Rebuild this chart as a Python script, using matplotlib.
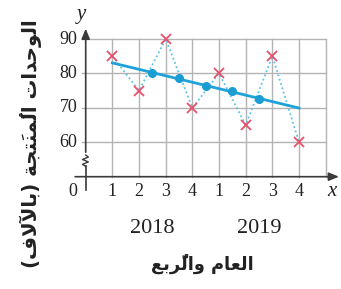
import matplotlib
matplotlib.use("Agg")
import matplotlib.pyplot as plt
import numpy as np

# Data
quarters = [1, 2, 3, 4, 5, 6, 7, 8]
quarter_labels = ["1", "2", "3", "4", "1", "2", "3", "4"]
units = [85, 75, 90, 70, 80, 65, 85, 60]
ma_x = [2.5, 3.5, 4.5, 5.5, 6.5]
ma_y = [80, 78.75, 76.25, 75, 72.5]
y_ticks = [60, 70, 80, 90]
years = ["2018", "2019"]
year_pos = [2.5, 6.5]
xlabel = "العام والرُّبع"
ylabel = "الوحدات المُنتَجة (بالآلاف)"

# --- minimal Arabic shaping (matplotlib has no complex text layout) ---
AR_FORMS = {
    "\u0627": ("\uFE8D", "\uFE8E", None, None),
    "\u0622": ("\uFE81", "\uFE82", None, None),
    "\u0628": ("\uFE8F", "\uFE90", "\uFE91", "\uFE92"),
    "\u0629": ("\uFE93", "\uFE94", None, None),
    "\u062A": ("\uFE95", "\uFE96", "\uFE97", "\uFE98"),
    "\u062C": ("\uFE9D", "\uFE9E", "\uFE9F", "\uFEA0"),
    "\u062D": ("\uFEA1", "\uFEA2", "\uFEA3", "\uFEA4"),
    "\u062F": ("\uFEA9", "\uFEAA", None, None),
    "\u0631": ("\uFEAD", "\uFEAE", None, None),
    "\u0639": ("\uFEC9", "\uFECA", "\uFECB", "\uFECC"),
    "\u0641": ("\uFED1", "\uFED2", "\uFED3", "\uFED4"),
    "\u0644": ("\uFEDD", "\uFEDE", "\uFEDF", "\uFEE0"),
    "\u0645": ("\uFEE1", "\uFEE2", "\uFEE3", "\uFEE4"),
    "\u0646": ("\uFEE5", "\uFEE6", "\uFEE7", "\uFEE8"),
    "\u0648": ("\uFEED", "\uFEEE", None, None),
}
LAM_ALEF = {"\u0627": ("\uFEFB", "\uFEFC"), "\u0622": ("\uFEF5", "\uFEF6")}
MIRROR = {"(": ")", ")": "("}


def shape_rtl(s):
    clusters = []
    for c in s:
        if "\u064B" <= c <= "\u0652" and clusters:
            clusters[-1][1].append(c)
        else:
            clusters.append([c, []])
    merged = []
    i = 0
    while i < len(clusters):
        b, m = clusters[i]
        if b == "\u0644" and i + 1 < len(clusters) and clusters[i + 1][0] in LAM_ALEF:
            merged.append(["LA" + clusters[i + 1][0], m + clusters[i + 1][1]])
            i += 2
        else:
            merged.append([b, m])
            i += 1

    def is_letter(b):
        return b in AR_FORMS or b.startswith("LA")

    def dual(b):
        return b in AR_FORMS and AR_FORMS[b][2] is not None

    out = []
    for k, (b, m) in enumerate(merged):
        prev = merged[k - 1][0] if k > 0 else None
        nxt = merged[k + 1][0] if k + 1 < len(merged) else None
        jp = prev is not None and dual(prev)
        if b.startswith("LA"):
            g = LAM_ALEF[b[2]][1 if jp else 0]
        elif b in AR_FORMS:
            jn = dual(b) and nxt is not None and is_letter(nxt)
            f = AR_FORMS[b]
            if jp and jn:
                g = f[3]
            elif jp:
                g = f[1]
            elif jn:
                g = f[2]
            else:
                g = f[0]
        else:
            g = MIRROR.get(b, b)
        out.append(g + "".join(m))
    return "".join(reversed(out))


W, H = 341, 289
fig = plt.figure(figsize=(W / 100, H / 100), dpi=100)
x0px, x9px = 85.7, 325.7
y50px, y90px = 176.7, 39.0
ax = fig.add_axes([x0px / W, 1 - y50px / H, (x9px - x0px) / W, (y50px - y90px) / H])
ax.set_xlim(0, 9)
ax.set_ylim(50, 90)
ax.axis("off")

serif = ["Liberation Serif", "DejaVu Serif"]
grid_c = "#b3b3b3"
axis_c = "#3a3a3a"

# grid
for gx in range(1, 10):
    ax.plot([gx, gx], [50, 90], color=grid_c, lw=1.0, clip_on=False, zorder=1)
for gy in y_ticks:
    ax.plot([-0.15, 9], [gy, gy], color=grid_c, lw=1.0, clip_on=False, zorder=1)

# axes
ax.annotate("", xy=(9.6, 50), xytext=(-0.5, 50),
            arrowprops=dict(arrowstyle="-|>,head_length=0.6,head_width=0.25", color=axis_c, lw=1.2),
            annotation_clip=False, zorder=2)
ax.plot([0, 0], [46.2, 53.0], color=axis_c, lw=1.2, clip_on=False, zorder=2)
zz_x = [0, -0.12, 0.1, -0.12, 0.1, 0]
zz_y = [53.0, 53.6, 54.3, 55.0, 55.7, 56.3]
ax.plot(zz_x, zz_y, color=axis_c, lw=1.0, clip_on=False, zorder=2)
ax.annotate("", xy=(0, 93.8), xytext=(0, 56.3),
            arrowprops=dict(arrowstyle="-|>,head_length=0.6,head_width=0.25", color=axis_c, lw=1.2),
            annotation_clip=False, zorder=2)

# tick labels
for t in y_ticks:
    ax.text(-0.32, t, str(t), ha="right", va="center", fontsize=13, family=serif, color="#222")
for q, lab in zip(quarters, quarter_labels):
    ax.text(q, 45.6, lab, ha="center", va="center", fontsize=13, family=serif, color="#222")
ax.text(-0.48, 45.6, "0", ha="center", va="center", fontsize=13, family=serif, color="#222")
ax.text(9.25, 45.6, "x", ha="center", va="center", fontsize=15, family=serif, style="italic", color="#222")
ax.text(-0.15, 97.0, "y", ha="center", va="center", fontsize=15, family=serif, style="italic", color="#222")
for yp, yr in zip(year_pos, years):
    ax.text(yp, 35.0, yr, ha="center", va="center", fontsize=16, family=serif, color="#222")

fig.text(202 / W, 1 - 264 / H, shape_rtl(xlabel), ha="center", va="center", fontsize=12.8,
         fontweight="bold", family=["DejaVu Sans"], color="#222")
fig.text(31 / W, 1 - 144 / H, shape_rtl(ylabel), ha="center", va="center", fontsize=14.2, rotation=90,
         fontweight="bold", family=["DejaVu Sans"], color="#222")

# data
ax.plot(quarters, units, linestyle=(0, (1, 1.5)), color="#5cc2e8", lw=1.3, clip_on=False, zorder=3)
ax.plot(quarters, units, linestyle="none", marker="x", color="#e8506a", ms=7, mew=1.3, clip_on=False, zorder=5)
ax.plot(ma_x, ma_y, linestyle="none", marker="o", color="#1a9dd3", ms=5.5, clip_on=False, zorder=5)
coef = np.polyfit(ma_x, ma_y, 1)
tx = np.array([quarters[0], quarters[-1]])
ax.plot(tx, np.polyval(coef, tx), color="#1ea2d8", lw=2.0, zorder=4, clip_on=False)

fig.savefig("out.png", dpi=100)
